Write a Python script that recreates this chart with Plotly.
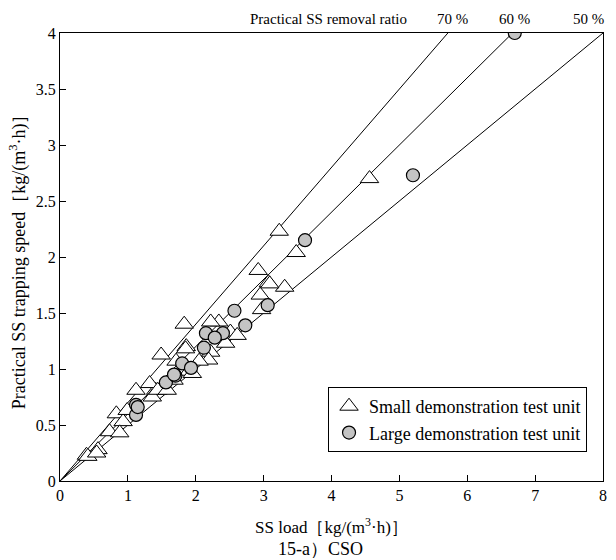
import plotly.graph_objects as go

# Reference removal-ratio lines
ratios = [0.7, 0.6, 0.5]
ratio_labels = ["70 %", "60 %", "50 %"]

# Small demonstration test unit (triangles)
small_x = [4.56, 3.23, 3.48, 2.92, 3.07, 3.31, 2.95, 2.97, 3.09,
           1.83, 2.34, 2.22, 1.49, 1.86, 2.51, 2.61, 2.44, 2.22, 2.19,
           2.05, 1.90, 1.71, 1.68, 1.41, 1.36, 1.95, 1.85, 1.12, 1.32,
           1.44, 0.83, 0.93, 0.73, 0.88, 0.56, 0.39, 1.58, 0.99, 0.41, 0.54]
small_y = [2.70, 2.23, 2.04, 1.88, 1.77, 1.73, 1.66, 1.53, 1.76,
           1.40, 1.42, 1.42, 1.125, 1.20, 1.33, 1.30, 1.23, 1.15, 1.08,
           1.07, 0.98, 1.07, 0.90, 0.81, 0.75, 0.96, 1.18, 0.81, 0.87,
           0.81, 0.60, 0.53, 0.44, 0.43, 0.28, 0.23, 0.81, 0.63, 0.22, 0.25]

# Large demonstration test unit (circles)
large_x = [6.70, 5.20, 3.61, 2.57, 3.06, 2.73, 2.15, 2.40, 2.28,
           1.80, 1.93, 1.56, 1.70, 2.12, 1.12, 1.12, 1.145, 1.68]
large_y = [4.00, 2.73, 2.15, 1.52, 1.57, 1.39, 1.32, 1.32, 1.28,
           1.05, 1.01, 0.88, 0.94, 1.19, 0.68, 0.59, 0.66, 0.95]

x_ticks = [0, 1, 2, 3, 4, 5, 6, 7, 8]
y_ticks = [0, 0.5, 1, 1.5, 2, 2.5, 3, 3.5, 4]
y_tick_text = ["0", "0.5", "1", "1.5", "2", "2.5", "3", "3.5", "4"]

FONT = "Liberation Serif"
XMAX, YMAX = 8, 4

fig = go.Figure()

for r in ratios:
    xe = min(XMAX, YMAX / r)
    fig.add_trace(go.Scatter(x=[0, xe], y=[0, r * xe], mode="lines",
                             line=dict(color="black", width=1),
                             showlegend=False, hoverinfo="skip"))

fig.add_trace(go.Scatter(x=small_x, y=small_y, mode="markers",
                         name="Small demonstration test unit",
                         marker=dict(symbol="triangle-up", size=16, color="white",
                                     line=dict(color="black", width=1))))
fig.add_trace(go.Scatter(x=large_x, y=large_y, mode="markers",
                         name="Large demonstration test unit",
                         marker=dict(symbol="circle", size=13, color="#c4c4c4",
                                     line=dict(color="black", width=1.2))))

axis_common = dict(showgrid=False, zeroline=False, showline=True, linecolor="black",
                   linewidth=1, mirror=True, ticks="inside", ticklen=6,
                   tickcolor="black", tickfont=dict(family=FONT, size=16, color="black"))

fig.update_xaxes(range=[0, XMAX], tickvals=x_ticks, **axis_common)
fig.update_yaxes(range=[0, YMAX], tickvals=y_ticks, ticktext=y_tick_text, **axis_common)

annotations = [
    dict(text="Practical SS trapping speed［kg/(m<sup>3</sup>·h)］", xref="paper", yref="paper",
         x=-42 / 547, y=0.5, textangle=-90, showarrow=False,
         font=dict(family=FONT, size=18, color="black"), xanchor="center", yanchor="middle"),
    dict(text="SS load［kg/(m<sup>3</sup>·h)］", xref="paper", yref="paper",
         x=(333 - 60) / 547, y=-(526 - 481) / 448, showarrow=False,
         font=dict(family=FONT, size=17, color="black"), xanchor="center", yanchor="middle"),
    dict(text="15-a）CSO", xref="paper", yref="paper",
         x=(322 - 60) / 547, y=-(549 - 481) / 448, showarrow=False,
         font=dict(family=FONT, size=18, color="black"), xanchor="center", yanchor="middle"),
    dict(text="Practical SS removal ratio", xref="paper", yref="paper",
         x=(330 - 60) / 547, y=(481 - 19) / 448, showarrow=False,
         font=dict(family=FONT, size=15, color="black"), xanchor="center", yanchor="middle"),
]
label_px = [455, 518, 592]
for lbl, px in zip(ratio_labels, label_px):
    annotations.append(dict(text=lbl, xref="paper", yref="paper",
                            x=(px - 60) / 547, y=(481 - 19) / 448, showarrow=False,
                            font=dict(family=FONT, size=15, color="black"),
                            xanchor="center", yanchor="middle"))

fig.update_layout(
    width=616, height=560,
    margin=dict(l=60, r=9, t=33, b=79),
    paper_bgcolor="white", plot_bgcolor="white",
    annotations=annotations,
    legend=dict(x=(330 - 60) / 547, y=(481 - 387) / 448, xanchor="left", yanchor="top",
                bordercolor="black", borderwidth=1, bgcolor="white",
                font=dict(family=FONT, size=18, color="black"),
                tracegroupgap=0, itemsizing="trace"),
)

fig.write_html("out.html")
